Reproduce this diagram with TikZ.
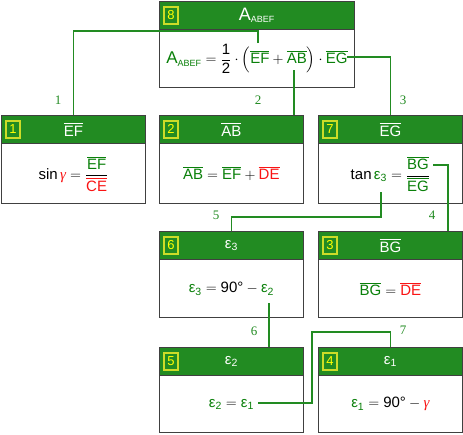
\documentclass[tikz,border=0pt]{standalone}
\usepackage{amsmath}
\usepackage{fontspec}
\setmainfont{Liberation Sans}
\newfontfamily\labfont{Liberation Serif}
\usetikzlibrary{calc}
\definecolor{hdr}{RGB}{34,139,34}
\definecolor{fg}{RGB}{10,128,10}
\definecolor{fr}{RGB}{250,20,20}
\definecolor{bd}{RGB}{64,64,64}
\definecolor{byel}{RGB}{205,220,40}
\definecolor{dyel}{RGB}{255,255,0}
\definecolor{lnc}{RGB}{34,139,34}
\newcommand\ovg[1]{\textcolor{fg}{\overline{\text{#1}}}}
\newcommand\ovr[1]{\textcolor{fr}{\overline{\text{#1}}}}
\newcommand\ovw[1]{\overline{\text{#1}}}
\newcommand\epsw[1]{\text{ε}_{\text{#1}}}
\newcommand\epsg[1]{\textcolor{fg}{\text{ε}_{\text{#1}}}}
\newcommand\gamr{\textcolor{fr}{\text{\labfont\itshape γ}}}
\tikzset{
  boxframe/.style={draw=bd, line width=0.8pt, fill=white, inner sep=0pt, anchor=north west},
  hdrbar/.style={draw=bd, line width=0.8pt, fill=hdr, inner sep=0pt, minimum height=28pt, anchor=north},
  badge/.style={draw=byel, line width=1.2pt, fill=hdr, inner sep=0pt, minimum width=14pt, minimum height=17pt, text=dyel, font=\fontsize{13}{15}\selectfont},
  hdrtext/.style={text=white, inner sep=0pt, font=\fontsize{15}{18}\selectfont},
  formula/.style={inner sep=0pt, font=\fontsize{15}{18}\selectfont},
  conn/.style={draw=lnc, line width=1.6pt},
  clab/.style={text=lnc, inner sep=0pt, font=\labfont\fontsize{13}{15}\selectfont},
}
\begin{document}
\begin{tikzpicture}[x=1pt,y=-1pt]
\useasboundingbox (0,0) rectangle (463,434);
% box 8
\node[boxframe, minimum width=195pt, minimum height=86pt] (b8) at (159,1) {};
\node[hdrbar, minimum width=195pt] (h8) at (b8.north) {};
\node[badge] (k8) at ([xshift=12pt]h8.west) {8};
\node[hdrtext] (t8) at (h8.center) {{\fontsize{18}{20}\selectfont A}\textsubscript{\fontsize{9}{10}\selectfont ABEF}};
\node[formula] (f8) at ($(h8.south)!0.5!(b8.south)$) {$\text{\color{fg}\fontsize{17}{20}\selectfont A}_{\text{\color{fg}\fontsize{9}{10}\selectfont ABEF}} = \dfrac{\text{1}}{\text{2}}\cdot\left(\ovg{EF}+\ovg{AB}\right)\cdot\ovg{EG}$};
% row 2
\node[boxframe, minimum width=144pt, minimum height=88pt] (b1) at (1,115) {};
\node[hdrbar, minimum width=144pt] (h1) at (b1.north) {};
\node[badge] (k1) at ([xshift=12pt]h1.west) {1};
\node[hdrtext] (t1) at (h1.center) {$\ovw{EF}$};
\node[formula] (f1) at ($(h1.south)!0.5!(b1.south)$) {$\text{sin}\,\gamr = \dfrac{\ovg{EF}}{\ovr{CE}}$};

\node[boxframe, minimum width=144pt, minimum height=88pt] (b2) at (159,115) {};
\node[hdrbar, minimum width=144pt] (h2) at (b2.north) {};
\node[badge] (k2) at ([xshift=12pt]h2.west) {2};
\node[hdrtext] (t2) at (h2.center) {$\ovw{AB}$};
\node[formula] (f2) at ($(h2.south)!0.5!(b2.south)$) {$\ovg{AB} = \ovg{EF} + \ovr{DE}$};

\node[boxframe, minimum width=144pt, minimum height=88pt] (b7) at (318,115) {};
\node[hdrbar, minimum width=144pt] (h7) at (b7.north) {};
\node[badge] (k7) at ([xshift=12pt]h7.west) {7};
\node[hdrtext] (t7) at (h7.center) {$\ovw{EG}$};
\node[formula] (f7) at ($(h7.south)!0.5!(b7.south)$) {$\text{tan}\,\epsg{3} = \dfrac{\ovg{BG}}{\ovg{EG}}$};
% row 3
\node[boxframe, minimum width=144pt, minimum height=86pt] (b6) at (159,231) {};
\node[hdrbar, minimum width=144pt] (h6) at (b6.north) {};
\node[badge] (k6) at ([xshift=12pt]h6.west) {6};
\node[hdrtext] (t6) at (h6.center) {$\epsw{3}$};
\node[formula] (f6) at ($(h6.south)!0.5!(b6.south)$) {$\epsg{3} = \text{90°} - \epsg{2}$};

\node[boxframe, minimum width=144pt, minimum height=86pt] (b3) at (318,231) {};
\node[hdrbar, minimum width=144pt] (h3) at (b3.north) {};
\node[badge] (k3) at ([xshift=12pt]h3.west) {3};
\node[hdrtext] (t3) at (h3.center) {$\ovw{BG}$};
\node[formula] (f3) at ($(h3.south)!0.5!(b3.south)$) {$\ovg{BG} = \ovr{DE}$};
% row 4
\node[boxframe, minimum width=144pt, minimum height=85pt] (b5) at (159,347) {};
\node[hdrbar, minimum width=144pt] (h5) at (b5.north) {};
\node[badge] (k5) at ([xshift=12pt]h5.west) {5};
\node[hdrtext] (t5) at (h5.center) {$\epsw{2}$};
\node[formula] (f5) at ($(h5.south)!0.5!(b5.south)$) {$\epsg{2} = \epsg{1}$};

\node[boxframe, minimum width=144pt, minimum height=85pt] (b4) at (318,347) {};
\node[hdrbar, minimum width=144pt] (h4) at (b4.north) {};
\node[badge] (k4) at ([xshift=12pt]h4.west) {4};
\node[hdrtext] (t4) at (h4.center) {$\epsw{1}$};
\node[formula] (f4) at ($(h4.south)!0.5!(b4.south)$) {$\epsg{1} = \text{90°} - \gamr$};
% connector anchors inside formulas
\coordinate (e8EF) at (258,43);
\coordinate (e8AB) at (294,70);
\coordinate (e8EG) at (347,57);
\coordinate (e7BG) at (433,165);
\coordinate (e7ep) at (381,192);
\coordinate (e6ep) at (269,303);
\coordinate (e5ep) at (258,403);
% connectors
\draw[conn] (e8EF) -- ++(0,-12) -| (h1.north);
\draw[conn] (e8AB) -- (e8AB |- h2.north);
\draw[conn] (e8EG) -| (h7.north);
\draw[conn] (e7BG) -| ([xshift=-15pt]h3.north east);
\draw[conn] (e7ep) -- ++(0,25) -| (h6.north);
\draw[conn] (e6ep) -- (e6ep |- h5.north);
\draw[conn] (e5ep) -- ++(54,0) -- ++(0,-71) -| (h4.north);
% labels
\node[clab] (l1) at (58,100) {1};
\node[clab] (l2) at (258,100) {2};
\node[clab] (l3) at (403,100) {3};
\node[clab] (l4) at (432,215) {4};
\node[clab] (l5) at (216,215) {5};
\node[clab] (l6) at (254,331) {6};
\node[clab] (l7) at (403,330) {7};
\end{tikzpicture}
\end{document}
